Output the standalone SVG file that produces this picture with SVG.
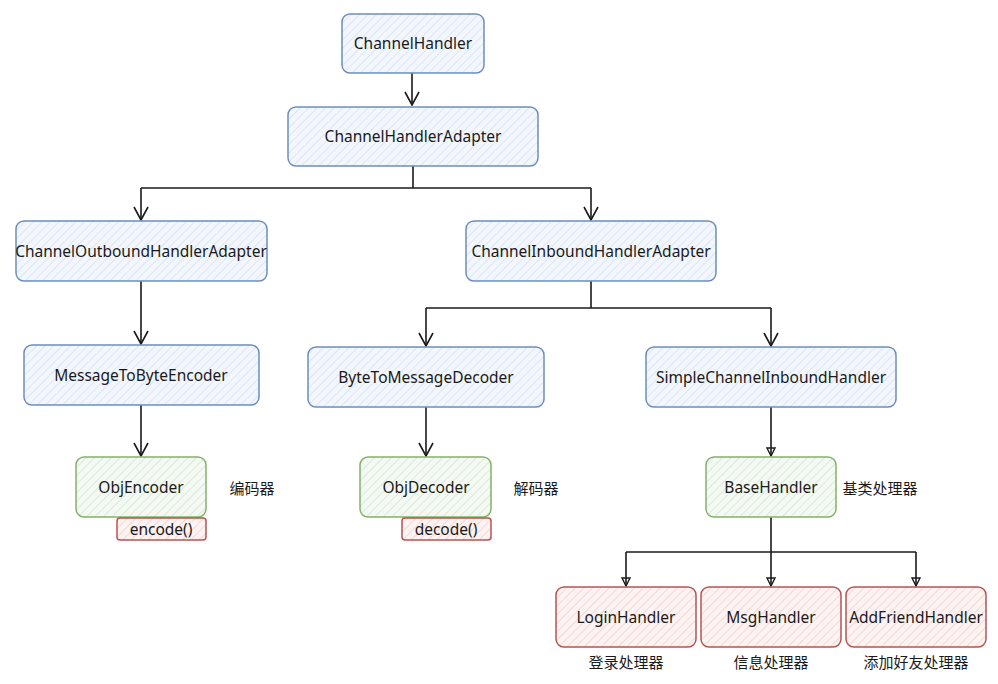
<svg xmlns="http://www.w3.org/2000/svg" width="998" height="684" viewBox="0 0 998 684">
<defs>
<pattern id="hb" width="6" height="6" patternUnits="userSpaceOnUse" patternTransform="rotate(45)">
<rect width="6" height="6" fill="#f3f7fd"/>
<line x1="0" y1="0" x2="0" y2="6" stroke="#c9dbf5" stroke-width="1.2"/>
</pattern>
<pattern id="hg" width="6" height="6" patternUnits="userSpaceOnUse" patternTransform="rotate(45)">
<rect width="6" height="6" fill="#f4f9f3"/>
<line x1="0" y1="0" x2="0" y2="6" stroke="#c8e2c6" stroke-width="1.2"/>
</pattern>
<pattern id="hr" width="6" height="6" patternUnits="userSpaceOnUse" patternTransform="rotate(45)">
<rect width="6" height="6" fill="#fdf3f3"/>
<line x1="0" y1="0" x2="0" y2="6" stroke="#f2c4c2" stroke-width="1.2"/>
</pattern>
<marker id="ah" viewBox="0 0 16 16" refX="15" refY="8" markerWidth="16" markerHeight="16" markerUnits="userSpaceOnUse" orient="auto">
<path d="M2 1 L15 8 L2 15" fill="none" stroke="#1a1a1a" stroke-width="1.6"/>
</marker>
<marker id="as" viewBox="0 0 10 10" refX="9" refY="5" markerWidth="10" markerHeight="10" markerUnits="userSpaceOnUse" orient="auto">
<path d="M1 1 L9 5 L1 9 Z" fill="none" stroke="#1a1a1a" stroke-width="1.4"/>
</marker>
</defs>
<style>
.b{fill:url(#hb);stroke:#6c8ebf;stroke-width:1.5}
.g{fill:url(#hg);stroke:#82b366;stroke-width:1.5}
.r{fill:url(#hr);stroke:#b85450;stroke-width:1.5}
text{font-family:"Noto Sans","Noto Sans CJK SC",sans-serif;font-size:15.5px;fill:#1a1a1a;text-anchor:middle;dominant-baseline:central}
.c{font-family:"Noto Sans CJK SC",sans-serif;font-size:15px}
.e{fill:none;stroke:#1a1a1a;stroke-width:1.6}
</style>
<g id="connectors">
<path class="e" d="M412 73 V105" marker-end="url(#ah)"/>
<path class="e" d="M413 166 V188"/>
<path class="e" d="M141 188 H591"/>
<path class="e" d="M141 188 V220" marker-end="url(#ah)"/>
<path class="e" d="M591 188 V220" marker-end="url(#ah)"/>
<path class="e" d="M141 281 V344" marker-end="url(#ah)"/>
<path class="e" d="M591 281 V308"/>
<path class="e" d="M426 308 H771"/>
<path class="e" d="M426 308 V346" marker-end="url(#ah)"/>
<path class="e" d="M771 308 V346" marker-end="url(#ah)"/>
<path class="e" d="M141 405 V456" marker-end="url(#ah)"/>
<path class="e" d="M426 407 V456" marker-end="url(#ah)"/>
<path class="e" d="M771 407 V456" marker-end="url(#as)"/>
<path class="e" d="M771 517 V552"/>
<path class="e" d="M626 552 H916"/>
<path class="e" d="M626 552 V586" marker-end="url(#as)"/>
<path class="e" d="M771 552 V586" marker-end="url(#as)"/>
<path class="e" d="M916 552 V586" marker-end="url(#as)"/>
</g>
<g id="n1"><rect class="b" x="342" y="14" width="142" height="59" rx="8"/><text x="413" y="43">ChannelHandler</text></g>
<g id="n2"><rect class="b" x="288" y="107" width="250" height="59" rx="8"/><text x="413" y="136">ChannelHandlerAdapter</text></g>
<g id="n3"><rect class="b" x="16" y="221" width="251" height="60" rx="8"/><text x="141" y="251">ChannelOutboundHandlerAdapter</text></g>
<g id="n4"><rect class="b" x="466" y="221" width="250" height="60" rx="8"/><text x="591" y="251">ChannelInboundHandlerAdapter</text></g>
<g id="n5"><rect class="b" x="24" y="345" width="235" height="60" rx="8"/><text x="141" y="375">MessageToByteEncoder</text></g>
<g id="n6"><rect class="b" x="308" y="347" width="236" height="60" rx="8"/><text x="426" y="377">ByteToMessageDecoder</text></g>
<g id="n7"><rect class="b" x="646" y="347" width="250" height="60" rx="8"/><text x="771" y="377">SimpleChannelInboundHandler</text></g>
<g id="n8"><rect class="g" x="76" y="457" width="130" height="60" rx="8"/><text x="141" y="487">ObjEncoder</text></g>
<g id="n9"><rect class="r" x="117" y="518" width="89" height="22" rx="3"/><text x="161" y="529">encode()</text></g>
<g id="n10"><text class="c" x="252" y="487">编码器</text></g>
<g id="n11"><rect class="g" x="360" y="457" width="131" height="60" rx="8"/><text x="426" y="487">ObjDecoder</text></g>
<g id="n12"><rect class="r" x="402" y="518" width="89" height="22" rx="3"/><text x="446" y="529">decode()</text></g>
<g id="n13"><text class="c" x="536" y="487">解码器</text></g>
<g id="n14"><rect class="g" x="706" y="457" width="130" height="60" rx="8"/><text x="771" y="487">BaseHandler</text></g>
<g id="n15"><text class="c" x="880" y="487">基类处理器</text></g>
<g id="n16"><rect class="r" x="556" y="587" width="140" height="60" rx="8"/><text x="626" y="617">LoginHandler</text></g>
<g id="n17"><rect class="r" x="701" y="587" width="140" height="60" rx="8"/><text x="771" y="617">MsgHandler</text></g>
<g id="n18"><rect class="r" x="846" y="587" width="140" height="60" rx="8"/><text x="916" y="617">AddFriendHandler</text></g>
<g id="n19"><text class="c" x="626" y="661">登录处理器</text></g>
<g id="n20"><text class="c" x="771" y="661">信息处理器</text></g>
<g id="n21"><text class="c" x="916" y="661">添加好友处理器</text></g>
</svg>
